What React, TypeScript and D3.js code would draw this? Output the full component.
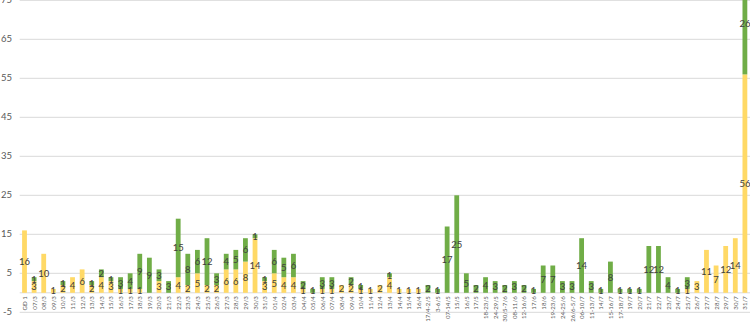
import React from "react";
import * as d3 from "d3";

const categories: string[] = [
  "GĐ 1", "07/3", "08/3", "09/3", "10/3", "11/3", "12/3", "13/3", "14/3", "15/3",
  "16/3", "17/3", "18/3", "19/3", "20/3", "21/3", "22/3", "23/3", "24/3", "25/3",
  "26/3", "27/3", "28/3", "29/3", "30/3", "31/3", "01/4", "02/4", "03/4", "04/4",
  "05/4", "06/4", "07/4", "08/4", "09/4", "10/4", "11/4", "12/4", "13/4", "14/4",
  "15/4", "16/4", "17/4-2/5", "3-6/5", "07-14/5", "15/5", "16/5", "17/5", "18-23/5", "24-29/5",
  "30/5-7/6", "08-11/6", "12-16/6", "17/6", "18/6", "19-23/6", "24-25/6", "26/6-5/7", "06-10/7", "11-13/7",
  "14/7", "15-16/7", "17-18/7", "19/7", "20/7", "21/7", "22/7", "23/7", "24/7", "25/7",
  "26/7", "27/7", "28/7", "29/7", "30/7", "31/7",
];

const yellowValues: number[] = [
  16, 3, 10, 1, 2, 4, 6, 2, 4, 3,
  1, 1, 1, 0, 3, 0, 4, 2, 5, 2,
  2, 6, 6, 8, 14, 3, 5, 4, 4, 1,
  0, 1, 1, 2, 2, 1, 1, 2, 4, 1,
  1, 1, 0, 0, 0, 0, 0, 0, 0, 0,
  0, 0, 0, 0, 0, 0, 0, 0, 0, 0,
  0, 0, 0, 0, 0, 0, 0, 0, 0, 1,
  3, 11, 7, 12, 14, 56,
];

const greenValues: number[] = [
  0, 1, 0, 0, 1, 0, 0, 1, 2, 1,
  3, 4, 9, 9, 3, 3, 15, 8, 6, 12,
  3, 4, 5, 6, 1, 1, 6, 5, 6, 2,
  1, 3, 3, 0, 2, 1, 0, 0, 1, 0,
  0, 0, 2, 1, 17, 25, 5, 2, 4, 3,
  2, 3, 2, 1, 7, 7, 3, 3, 14, 3,
  1, 8, 1, 1, 1, 12, 12, 4, 1, 3,
  0, 0, 0, 0, 0, 26,
];

const yTicks: number[] = [-5, 5, 15, 25, 35, 45, 55, 65, 75];

const W = 750;
const H = 322;

export default function App() {
  const x = d3
    .scaleBand<string>()
    .domain(categories)
    .range([19.7, 749.7])
    .paddingInner(0.5)
    .paddingOuter(0.25);
  const y = d3.scaleLinear().domain([-5, 75]).range([312.3, 0.3]);

  const rows = categories.map((c, i) => ({ c, y: yellowValues[i], g: greenValues[i] }));
  const stack = d3.stack<any>().keys(["y", "g"])(rows);
  const colors: Record<string, string> = { y: "#FFD966", g: "#70AD47" };
  const bw = x.bandwidth();
  const font = "Lato, 'Open Sans', sans-serif";

  return (
    <svg
      width={W}
      height={H}
      style={{ position: "absolute", left: 0, top: 0, background: "#fff" }}
    >
      {yTicks.map((t) => (
        <g key={t}>
          <line x1={19.7} x2={W} y1={y(t)} y2={y(t)} stroke="#d9d9d9" strokeWidth={1} />
          <text
            x={12}
            y={y(t)}
            textAnchor="end"
            dominantBaseline="middle"
            fontFamily={font}
            fontSize={9.5}
            fill="#595959"
          >
            {t}
          </text>
        </g>
      ))}
      <line x1={19.7} x2={W} y1={y(0)} y2={y(0)} stroke="#d9d9d9" strokeWidth={1} />
      {stack.map((s) => (
        <g key={s.key} fill={colors[s.key]}>
          {s.map((d, i) => {
            const v = d[1] - d[0];
            if (v <= 0) return null;
            return (
              <rect
                key={i}
                x={x(categories[i])!}
                width={bw}
                y={y(d[1])}
                height={y(d[0]) - y(d[1])}
              />
            );
          })}
        </g>
      ))}
      {stack.map((s) => (
        <g key={"l" + s.key}>
          {s.map((d, i) => {
            const v = d[1] - d[0];
            if (v <= 0) return null;
            return (
              <text
                key={i}
                x={x(categories[i])! + bw / 2}
                y={y((d[0] + d[1]) / 2)}
                textAnchor="middle"
                dominantBaseline="central"
                fontFamily={font}
                fontSize={9.5}
                fill="#404040"
              >
                {v}
              </text>
            );
          })}
        </g>
      ))}
      {categories.map((c) => (
        <text
          key={c}
          transform={`translate(${x(c)! + bw / 2},${y(0) + 3.5}) rotate(-90)`}
          textAnchor="end"
          dominantBaseline="central"
          fontFamily={font}
          fontSize={6.1}
          fill="#595959"
        >
          {c}
        </text>
      ))}
    </svg>
  );
}
